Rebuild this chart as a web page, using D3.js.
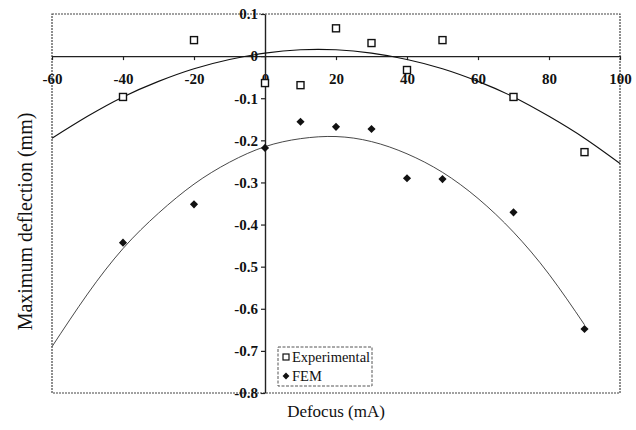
<!DOCTYPE html>
<html>
<head>
<meta charset="utf-8">
<script src="https://cdn.jsdelivr.net/npm/d3@7"></script>
<style>
  html, body { margin: 0; padding: 0; background: #fff; }
  svg { display: block; }
  svg text { font-family: "Liberation Serif", "Times New Roman", serif; fill: #111; }
</style>
</head>
<body>
<svg id="chart" width="636" height="430"></svg>
<script>
// Defocus settings (mA)
const defocus = [-40, -20, 0, 10, 20, 30, 40, 50, 70, 90];
// Measured maximum deflection (mm)
const experimental = [-0.097, 0.038, -0.064, -0.069, 0.066, 0.031, -0.033, 0.038, -0.097, -0.228];
// Finite element results (mm)
const fem = [-0.443, -0.352, -0.218, -0.156, -0.168, -0.173, -0.290, -0.292, -0.371, -0.648];

// Trend lines through each series
const trendX = [-60, -50, -40, -30, -20, -10, 0, 10, 20, 30, 40, 50, 60, 70, 80, 90, 100];
const expTrend = [-0.195, -0.143, -0.097, -0.060, -0.030, -0.008, 0.007, 0.015, 0.015, 0.007, -0.008, -0.030, -0.060, -0.097, -0.143, -0.195, -0.255];
const femTrendX = [-60, -50, -40, -30, -20, -10, 0, 10, 20, 30, 40, 50, 60, 70, 80, 90];
const femTrend = [-0.690, -0.565, -0.457, -0.373, -0.304, -0.252, -0.215, -0.196, -0.191, -0.203, -0.232, -0.276, -0.338, -0.418, -0.518, -0.638];

const xTicks = [-60, -40, -20, 0, 20, 40, 60, 80, 100];
const yTicks = [0.1, 0, -0.1, -0.2, -0.3, -0.4, -0.5, -0.6, -0.7, -0.8];

const svg = d3.select("#chart");
const x = d3.scaleLinear().domain([-60, 100]).range([52, 620]);
const y = d3.scaleLinear().domain([-0.8, 0.1]).range([393, 14]);

const serif = "'Liberation Serif', 'Times New Roman', serif";

// Plot frame
svg.append("rect")
  .attr("x", x(-60)).attr("y", y(0.1))
  .attr("width", x(100) - x(-60)).attr("height", y(-0.8) - y(0.1))
  .attr("fill", "none").attr("stroke", "#444").attr("stroke-width", 1.2)
  .attr("stroke-dasharray", "2,1");

const fmt = d => String(+d.toFixed(1));

function styleAxis(g) {
  g.attr("font-family", serif).attr("font-size", 15).attr("font-weight", "bold");
  g.select(".domain").attr("stroke", "#222").attr("stroke-width", 1.4);
  g.selectAll(".tick line").attr("stroke", "#222").attr("stroke-width", 1.2);
  g.selectAll("text").style("font-family", serif).attr("fill", "#111");
}

// Horizontal axis crossing at zero
svg.append("g")
  .attr("transform", `translate(0,${y(0)})`)
  .call(d3.axisBottom(x).tickValues(xTicks).tickFormat(fmt).tickSize(4).tickSizeOuter(0).tickPadding(13))
  .call(styleAxis);

// Vertical axis crossing at zero
svg.append("g")
  .attr("transform", `translate(${x(0)},0)`)
  .call(d3.axisLeft(y).tickValues(yTicks).tickFormat(fmt).tickSize(4).tickSizeOuter(0).tickPadding(3))
  .call(styleAxis);

// Trend curves
const line = d3.line().x(d => x(d[0])).y(d => y(d[1])).curve(d3.curveNatural);
svg.append("path")
  .datum(d3.zip(trendX, expTrend))
  .attr("d", line).attr("fill", "none").attr("stroke", "#111").attr("stroke-width", 1.1);
svg.append("path")
  .datum(d3.zip(femTrendX, femTrend))
  .attr("d", line).attr("fill", "none").attr("stroke", "#333").attr("stroke-width", 0.9);

// Experimental points: open squares
svg.append("g").selectAll("rect")
  .data(d3.zip(defocus, experimental))
  .join("rect")
  .attr("x", d => x(d[0]) - 3.5).attr("y", d => y(d[1]) - 3.5)
  .attr("width", 7).attr("height", 7)
  .attr("fill", "#fff").attr("stroke", "#111").attr("stroke-width", 1.4);

// FEM points: filled diamonds
const diamond = d3.symbol().type(d3.symbolDiamond2).size(42);
svg.append("g").selectAll("path")
  .data(d3.zip(defocus, fem))
  .join("path")
  .attr("transform", d => `translate(${x(d[0])},${y(d[1])})`)
  .attr("d", diamond).attr("fill", "#111");

// Legend
const lg = svg.append("g").attr("transform", "translate(278,347)");
lg.append("rect").attr("width", 94).attr("height", 39)
  .attr("fill", "#fff").attr("stroke", "#555").attr("stroke-width", 1)
  .attr("stroke-dasharray", "3,1.5");
lg.append("rect").attr("x", 5).attr("y", 7).attr("width", 6).attr("height", 6)
  .attr("fill", "#fff").attr("stroke", "#111").attr("stroke-width", 1.2);
lg.append("text").attr("x", 14).attr("y", 15).attr("font-size", 14.5).text("Experimental");
lg.append("path").attr("transform", "translate(8,29)").attr("d", d3.symbol().type(d3.symbolDiamond2).size(30)).attr("fill", "#111");
lg.append("text").attr("x", 14).attr("y", 34).attr("font-size", 14.5).text("FEM");

// Axis titles
svg.append("text")
  .attr("x", (x(-60) + x(100)) / 2).attr("y", 417)
  .attr("text-anchor", "middle").attr("font-size", 17)
  .text("Defocus (mA)");
svg.append("text")
  .attr("transform", `translate(32,${(y(0.1) + y(-0.8)) / 2 + 18}) rotate(-90)`)
  .attr("text-anchor", "middle").attr("font-size", 20)
  .text("Maximum deflection (mm)");
</script>
</body>
</html>
